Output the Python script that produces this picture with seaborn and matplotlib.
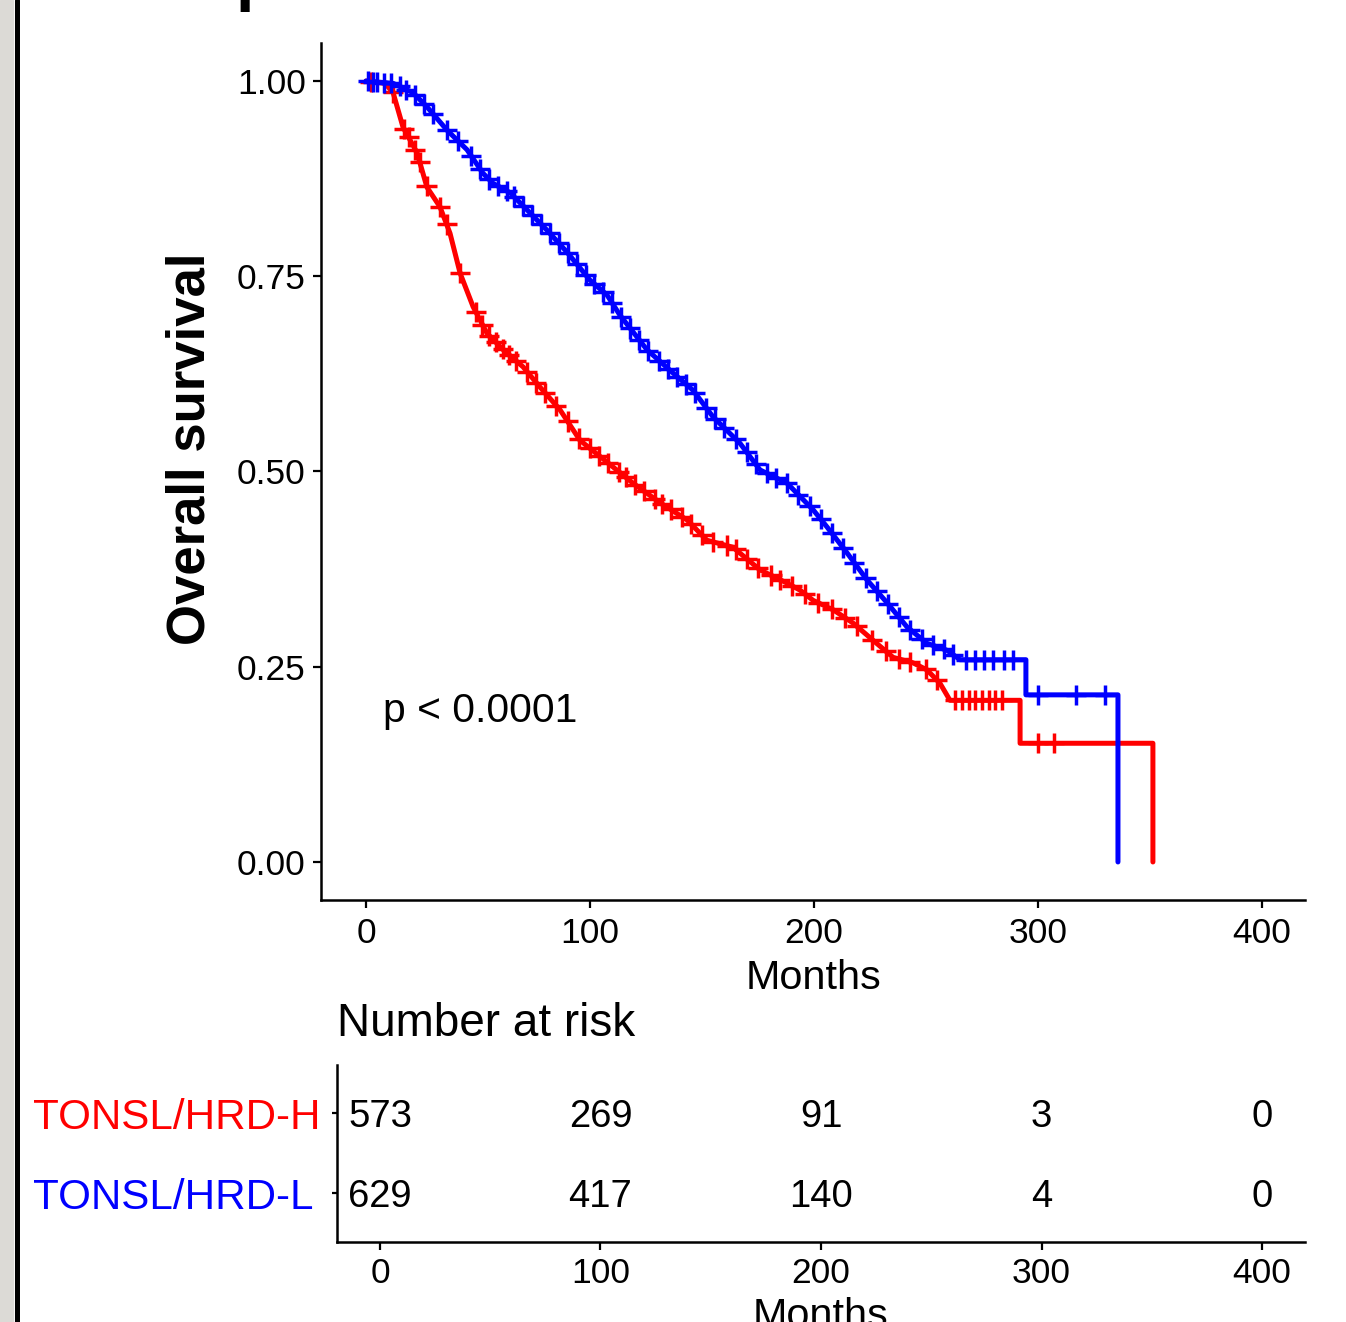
import seaborn as sns
import numpy as np
import pandas as pd
import matplotlib.pyplot as plt
from matplotlib.patches import Rectangle
from matplotlib.lines import Line2D

# Kaplan-Meier curves (months, survival)
high_time = [0, 8.5, 12.1, 16.5, 22.8, 27.2, 33.0, 37.5, 42.0, 47.8, 54.0, 61.2, 70.1, 77.7,
             86.6, 95.5, 107.6, 119.2, 131.3, 143.3, 152.2, 163.8, 175.9, 188.0, 193.8, 199.6,
             208.5, 217.4, 226.3, 235.3, 244.2, 250.4, 256.2, 260.7, 292.0, 292.0, 351.3, 351.3]
high_surv = [1.0, 0.997, 0.985, 0.941, 0.908, 0.864, 0.839, 0.805, 0.754, 0.711, 0.677, 0.656,
             0.634, 0.608, 0.579, 0.540, 0.512, 0.485, 0.460, 0.438, 0.412, 0.403, 0.374, 0.357,
             0.348, 0.335, 0.323, 0.306, 0.284, 0.262, 0.255, 0.246, 0.229, 0.207, 0.207, 0.152,
             0.152, 0.0]
low_time = [0, 12.1, 21.0, 27.2, 36.2, 45.1, 52.2, 56.7, 64.3, 71.9, 80.8, 89.7, 100.0, 107.6,
            113.4, 125.4, 137.1, 146.0, 154.9, 167.0, 175.9, 188.0, 199.6, 205.8, 214.7, 223.7,
            232.6, 241.5, 250.4, 259.4, 265.2, 294.6, 294.6, 335.7, 335.7]
low_surv = [1.0, 0.997, 0.985, 0.967, 0.937, 0.912, 0.882, 0.869, 0.857, 0.835, 0.809, 0.781,
            0.745, 0.726, 0.700, 0.656, 0.626, 0.604, 0.570, 0.536, 0.502, 0.485, 0.451, 0.429,
            0.396, 0.361, 0.332, 0.301, 0.280, 0.271, 0.259, 0.259, 0.214, 0.214, 0.0]

# censoring times
high_cens = [2, 12, 17, 19, 22, 24, 27, 33, 36, 42, 49, 52, 55, 58, 61, 64, 67, 72, 76, 80, 85,
             90, 95, 100, 104, 108, 113, 116, 120, 124, 129, 132, 136, 141, 145, 150, 155, 161,
             165, 170, 175, 181, 185, 190, 196, 202, 208, 214, 219, 226, 232, 238, 243, 250, 255,
             263, 266, 269, 272, 275, 278, 281, 284, 300, 307]
low_cens = [1, 3, 5, 8, 11, 15, 18, 22, 26, 30, 36, 41, 47, 51, 55, 59, 63, 66, 70, 74, 78, 82,
            86, 90, 94, 98, 102, 106, 110, 114, 118, 122, 126, 131, 135, 139, 143, 147, 152, 156,
            160, 165, 170, 174, 179, 183, 188, 193, 198, 203, 208, 213, 218, 223, 228, 233, 238,
            243, 248, 253, 258, 262, 268, 272, 276, 280, 285, 289, 300, 317, 330]

groups = ["TONSL/HRD-H", "TONSL/HRD-L"]
colors = {"TONSL/HRD-H": "#FF0000", "TONSL/HRD-L": "#0000FF"}
risk_times = [0, 100, 200, 300, 400]
risk_high = [573, 269, 91, 3, 0]
risk_low = [629, 417, 140, 4, 0]

curves = pd.concat([
    pd.DataFrame({"time": high_time, "surv": high_surv, "group": groups[0]}),
    pd.DataFrame({"time": low_time, "surv": low_surv, "group": groups[1]}),
], ignore_index=True)
cens = pd.concat([
    pd.DataFrame({"time": high_cens, "surv": np.interp(high_cens, high_time, high_surv), "group": groups[0]}),
    pd.DataFrame({"time": low_cens, "surv": np.interp(low_cens, low_time, low_surv), "group": groups[1]}),
], ignore_index=True)

sns.set_style("ticks")
plt.rcParams['font.family'] = ['Liberation Sans', 'DejaVu Sans']
plt.rcParams.update({"text.color": "black", "axes.labelcolor": "black",
                     "xtick.color": "black", "ytick.color": "black"})

W, H = 1346, 1322
fig = plt.figure(figsize=(W / 100, H / 100), dpi=100)

# main KM panel
ax = fig.add_axes([321 / W, (H - 900) / H, (1305 - 321) / W, (900 - 43) / H])
sns.lineplot(data=curves, x="time", y="surv", hue="group", palette=colors, sort=False,
             estimator=None, linewidth=3.6, legend=False, ax=ax)
sns.scatterplot(data=cens, x="time", y="surv", hue="group", palette=colors, marker="+",
                s=210, linewidth=2.5, legend=False, ax=ax, zorder=3)
ax.set_xlim(-20.1, 419.2)
ax.set_ylim(-0.0487, 1.0487)
ax.set_xticks(risk_times)
ax.set_yticks([0, 0.25, 0.5, 0.75, 1.0])
ax.set_yticklabels(["0.00", "0.25", "0.50", "0.75", "1.00"])
ax.tick_params(labelsize=25.5, length=6, width=1.6, pad=5)
ax.tick_params(axis="x", pad=6)
for side in ["top", "right"]:
    ax.spines[side].set_visible(False)
for side in ["left", "bottom"]:
    ax.spines[side].set_linewidth(1.8)
    ax.spines[side].set_color("black")
ax.set_xlabel("Months", fontsize=29.8)
ax.xaxis.set_label_coords(0.501, -0.069)
ax.set_ylabel("Overall survival", fontsize=38, fontweight="bold")
ax.yaxis.set_label_coords(-0.1073, 0.527)
ax.text(7.6, 0.198, "p < 0.0001", fontsize=29.3, ha="left", va="center_baseline")

# risk table
rax = fig.add_axes([337 / W, (H - 1242) / H, (1305 - 337) / W, (1242 - 1065) / H])
for t, n1, n2 in zip(risk_times, risk_high, risk_low):
    rax.text(t, 2, str(n1), fontsize=27.5, ha="center", va="center_baseline")
    rax.text(t, 1, str(n2), fontsize=27.5, ha="center", va="center_baseline")
rax.set_xlim(-19.5, 419.5)
rax.set_ylim(0.39, 2.6)
rax.set_xticks(risk_times)
rax.set_yticks([2, 1])
rax.set_yticklabels(groups)
rax.tick_params(axis="x", labelsize=25.5, length=6, width=1.6, pad=5)
rax.tick_params(axis="y", labelsize=30.3, length=3.6, width=1.6, pad=215)
for lab in rax.get_yticklabels():
    lab.set_color(colors[lab.get_text()])
    lab.set_horizontalalignment("left")
for side in ["top", "right"]:
    rax.spines[side].set_visible(False)
for side in ["left", "bottom"]:
    rax.spines[side].set_linewidth(1.8)
    rax.spines[side].set_color("black")
rax.set_xlabel("Months", fontsize=29.8)
rax.xaxis.set_label_coords(0.5, -0.31)
rax.set_ylabel("")
rax.text(0.0, 1.232, "Number at risk", transform=rax.transAxes, fontsize=33,
         ha="left", va="center")

# page frame on the left and cropped heading at the top
fig.add_artist(Rectangle((0, 0), 13 / W, 1, transform=fig.transFigure,
                         color="#dcdad6", zorder=0))
fig.add_artist(Line2D([16.5 / W, 16.5 / W], [0, 1], transform=fig.transFigure,
                      color="black", linewidth=3.6))
fig.text(236 / W, 1 + 2 / H, "patients", fontsize=48, fontweight="bold",
         ha="left", va="baseline")

fig.savefig("out.png", dpi=100)
